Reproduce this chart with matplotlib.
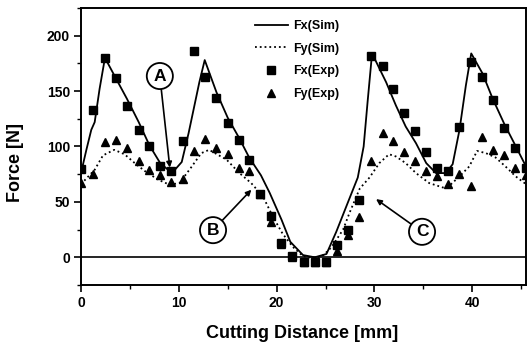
import matplotlib
matplotlib.use("Agg")
import matplotlib.pyplot as plt
from matplotlib.ticker import MultipleLocator

plt.rcParams['font.family'] = ['Liberation Sans', 'DejaVu Sans']
plt.rcParams['font.weight'] = 'bold'

# Experimental data (shared sampling positions)
x_exp = [0, 1.25, 2.45, 3.6, 4.7, 5.9, 7.0, 8.1, 9.25, 10.4,
         11.55, 12.7, 13.85, 15.0, 16.15, 17.2, 18.3, 19.45, 20.5, 21.6,
         22.75, 23.9, 25.0, 26.2, 27.3, 28.4, 29.7, 30.85, 31.95, 33.05,
         34.2, 35.3, 36.4, 37.5, 38.7, 39.85, 41.0, 42.1, 43.25, 44.4, 45.5]
fx_exp = [80, 133, 180, 162, 137, 115, 100, 82, 78, 105,
          186, 163, 144, 121, 106, 88, 57, 37, 13, 1,
          -4, -4, -4, 11, 25, 52, 182, 173, 152, 130,
          114, 95, 81, 78, 118, 176, 163, 142, 117, 99, 81]
fy_exp = [67, 75, 104, 106, 99, 87, 79, 74, 68, 71,
          96, 107, 99, 93, 81, 78, 57, 32, 12, 0,
          -4, -4, -4, 6, 20, 36, 87, 112, 105, 95,
          87, 78, 73, 66, 75, 64, 109, 97, 92, 81, 74]

# Simulation curves
x_fx_sim = [0, 0.55, 1.05, 1.4, 1.9, 2.45, 3.6, 4.7, 5.9, 7.0, 8.1, 8.9, 9.6, 10.3,
            11.0, 12.1, 12.65, 13.85, 15.0, 16.15, 17.2, 18.4, 19.3, 20.5, 21.4,
            22.7, 23.9, 25.1, 26.1, 27.4, 28.3, 28.9, 29.3, 29.76, 31.2, 32.2, 33.2,
            34.25, 35.3, 36.3, 37.3, 38.0, 38.7, 39.35, 39.9, 41.05, 42.1, 43.3,
            44.35, 45.5]
fx_sim = [76, 97, 115, 122, 152, 180, 161, 143, 122, 101, 85, 79, 79, 86,
          112, 158, 178, 149, 126, 108, 90, 74, 58, 34, 14,
          2, 0, 3, 23, 52, 72, 100, 140, 184, 158, 137, 118,
          103, 85, 76, 76, 84, 115, 155, 184, 166, 143, 120,
          102, 82]

x_fy_sim = [0, 1.4, 2.25, 3.4, 4.45, 5.5, 6.5, 7.9, 9.05, 10.07, 11.25, 12.3,
            13.1, 14.3, 14.9, 16.2, 17.4, 18.6, 19.6, 20.6, 21.65, 22.7, 23.9,
            24.8, 25.6, 26.8, 27.45, 28.5, 29.5, 30.5, 31.5, 32.2, 33.2, 34.25,
            35.6, 37.0, 37.65, 38.7, 39.7, 40.5, 41.4, 42.4, 43.4, 44.45, 45.5]
fy_sim = [66, 79, 92, 97, 93, 85, 78, 70, 65.5, 67, 81, 94,
          97, 91, 88, 76, 67, 55, 37, 21.5, 9.5, 1, -1,
          2, 9, 25, 40, 62, 72, 85, 93, 91, 85, 76,
          67, 63, 64.5, 73, 82, 96, 94, 90, 82, 73, 66]

x_ticks = [0, 10, 20, 30, 40]
y_ticks = [0, 50, 100, 150, 200]

W, H = 527, 347
fig = plt.figure(figsize=(W / 100, H / 100), dpi=100)
ax = fig.add_axes([81 / W, 1 - 285 / H, (526 - 81) / W, (285 - 8) / H])

ax.axhline(0, color='black', lw=1.2, zorder=1)
ax.plot(x_fx_sim, fx_sim, '-', color='black', lw=1.3, label='Fx(Sim)', zorder=2)
ax.plot(x_fy_sim, fy_sim, ':', color='black', lw=1.3, label='Fy(Sim)', zorder=2)
ax.plot(x_exp, fx_exp, 's', color='black', ms=5.5, ls='none', label='Fx(Exp)', zorder=3)
ax.plot(x_exp, fy_exp, '^', color='black', ms=5.5, ls='none', label='Fy(Exp)', zorder=3)

ax.set_xlim(0, 45.5)
ax.set_ylim(-25, 225)
ax.set_xticks(x_ticks)
ax.set_yticks(y_ticks)
ax.xaxis.set_minor_locator(MultipleLocator(5))
ax.yaxis.set_minor_locator(MultipleLocator(25))
ax.tick_params(which='major', direction='out', length=5, width=1.2, labelsize=10, pad=3)
ax.tick_params(which='minor', direction='out', length=3, width=1.0)
for lab in ax.get_xticklabels() + ax.get_yticklabels():
    lab.set_fontweight('bold')
for s in ax.spines.values():
    s.set_linewidth(1.4)

fig.text(302 / W, 1 - 333 / H, 'Cutting Distance [mm]', ha='center', va='center',
         fontsize=13, fontweight='bold')
fig.text(15 / W, 1 - 162 / H, 'Force [N]', ha='center', va='center',
         rotation=90, fontsize=13, fontweight='bold')

leg = ax.legend(loc='upper left', bbox_to_anchor=((255 - 81) / 446, (285 - 20) / 277),
                frameon=False, fontsize=9, borderpad=0, borderaxespad=0,
                handlelength=2.7, handletextpad=0.35, labelspacing=0.85)
for t in leg.get_texts():
    t.set_fontweight('bold')

def label(txt, center, tip):
    ax.annotate(txt, xy=tip, xytext=center, ha='center', va='center',
                fontsize=12.5, fontweight='bold',
                bbox=dict(boxstyle='circle,pad=0.32', fc='white', ec='black', lw=1.3),
                arrowprops=dict(arrowstyle='-|>', color='black', lw=1.2,
                                mutation_scale=8, shrinkA=0, shrinkB=0),
                zorder=5)

label('A', (8.06, 163.6), (9.08, 81))
label('B', (13.5, 24.5), (17.42, 61))
label('C', (34.87, 23), (30.17, 52.5))

fig.savefig('out.png', dpi=100)
